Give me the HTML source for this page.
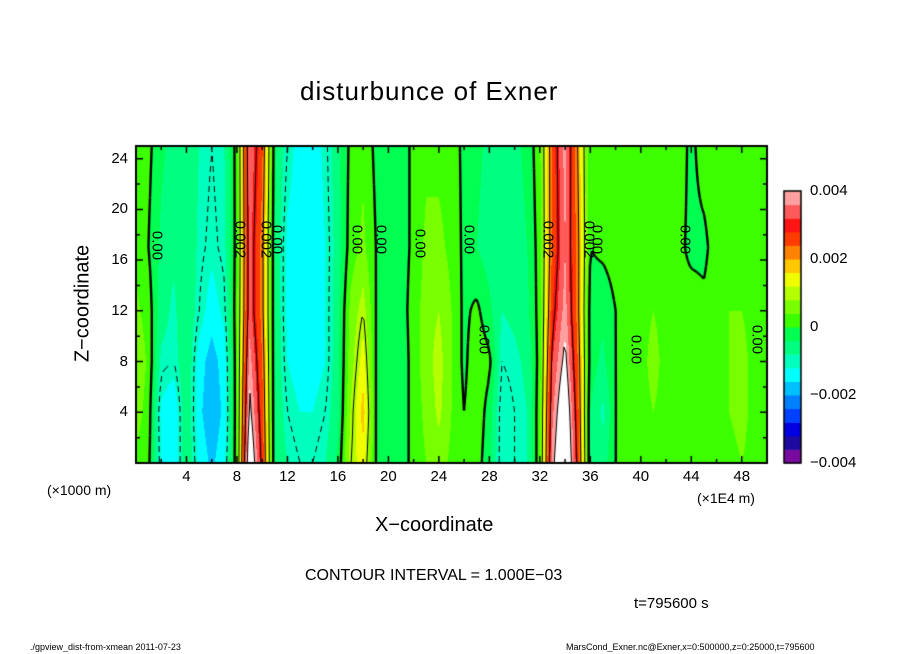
<!DOCTYPE html>
<html><head><meta charset="utf-8">
<style>
body{margin:0;background:#fff;width:904px;height:654px;overflow:hidden;position:relative;font-family:"Liberation Sans","DejaVu Sans",sans-serif;color:#000}
.t{position:absolute;white-space:nowrap}
canvas{position:absolute}
</style></head><body>
<div class="t" style="left:300px;top:76px;font-size:26px;letter-spacing:1px">disturbunce of Exner</div>
<canvas id="plot" width="904" height="654" style="left:0;top:0"></canvas>
<div class="t" style="left:-2px;top:292px;font-size:20px;transform:rotate(-90deg);transform-origin:center;width:170px;text-align:center">Z−coordinate</div>
<div class="t" style="left:375px;top:514px;font-size:20px">X−coordinate</div>
<div class="t" style="left:47px;top:482px;font-size:14px">(×1000 m)</div>
<div class="t" style="left:697px;top:490px;font-size:14px">(×1E4 m)</div>
<div class="t" style="left:305px;top:567px;font-size:16px">CONTOUR INTERVAL = 1.000E−03</div>
<div class="t" style="left:634px;top:595px;font-size:15px">t=795600 s</div>
<div class="t" style="left:30px;top:642px;font-size:9px">./gpview_dist-from-xmean  2011-07-23</div>
<div class="t" style="left:566px;top:642px;font-size:9px">MarsCond_Exner.nc@Exner,x=0:500000,z=0:25000,t=795600</div>
<script>
// data (values in units of 1e-4)
const xs=[0,1,2,3,4,5,6,7,8,9,10,11,12,13,14,15,16,17,18,19,20,21,22,23,24,25,26,27,28,29,30,31,32,33,34,35,36,37,38,39,40,41,42,43,44,45,46,47,48,49,50];
const zLevels=[0,4,8,12,17,25];
const row0=[3,1,-12,-16,-4,-13,-17,-13,3,48,28,-4,-8,-10,-10,-8,-3,10,14,0,-4,-3,2,4,6,3,0,2,-3,-12,-10,-8,3,38,52,28,-4,-6,0,2,3,4,3,2,3,1,2,3,4,3,2];
const row4=[6,2,-13,-16,-4,-15,-19,-15,3,42,26,-4,-10,-12,-12,-10,-5,8,18,0,-3,-3,2,5,9,4,0,3,-2,-12,-10,-8,3,35,48,26,-4,-9,0,2,3,4,3,2,3,1,2,4,5,3,2];
const row8=[8,3,-9,-10,-4,-14,-18,-14,3,38,24,-4,-12,-14,-14,-12,-5,6,14,0,-3,-3,2,6,10,4,-1,3,1,-10,-9,-7,2,32,42,24,-2,-5,0,2,3,5,3,2,3,1,2,4,5,3,2];
const row12=[5,2,-6,-9,-4,-10,-14,-11,3,34,22,-4,-13,-15,-15,-12,-5,5,10,0,-3,-2,2,6,8,4,-1,1,-3,-8,-7,-5,2,28,38,22,-2,-3,0,2,3,4,3,1,2,1,2,4,4,3,2];
const row17=[3,0,-5,-7,-4,-9,-11,-9,2,34,22,-4,-13,-15,-15,-12,-6,2,5,0,-3,-2,1,5,5,3,-1,-4,-6,-7,-6,-4,2,25,36,22,0,1,2,2,3,4,2,1,-1,-1,2,3,3,2,1];
const row25=[2,1,-3,-6,-4,-8,-10,-8,2,36,25,-3,-10,-14,-14,-11,-5,1,3,-1,-2,-2,1,3,3,2,-1,-3,-5,-6,-5,-3,3,25,38,20,0,2,2,2,3,3,2,2,-1,2,2,2,2,1,1];
const rows=[row0,row4,row8,row12,row17,row25];
const colors=["#780aa0","#1e0aa0","#0000e0","#0040ff","#0080ff","#00c0ff","#00ffff","#00ffbe","#00ff80","#00ff50","#3cff00","#78ff00","#b4ff00","#f0ff00","#ffc800","#ff8200","#ff3c00","#ff1414","#ff5a5a","#ffa0a0"];
const cbLabels=["0.004","0.002","0","−0.002","−0.004"];
const cbValues=[0.004,0.002,0,-0.002,-0.004];
const xTicks=[4,8,12,16,20,24,28,32,36,40,44,48];
const yTicks=[4,8,12,16,20,24];
const contourLevels=[-0.002,-0.001,0,0.001,0.002,0.003,0.004];

const L=136,R=767,T=146,B=463;
const X=x=>L+(x-0)/(50-0)*(R-L);
const Y=z=>B-(z-0)/(25-0)*(B-T);
function field(x,z){
  let i=Math.min(xs.length-2,Math.max(0,Math.floor(x)));let fx=(x-xs[i])/(xs[i+1]-xs[i]);
  let j=0;while(j<zLevels.length-2&&z>zLevels[j+1])j++;
  let fz=(z-zLevels[j])/(zLevels[j+1]-zLevels[j]);fz=Math.max(0,Math.min(1,fz));
  const a=rows[j][i]*(1-fx)+rows[j][i+1]*fx, b=rows[j+1][i]*(1-fx)+rows[j+1][i+1]*fx;
  return (a*(1-fz)+b*fz)*1e-4;
}
function hex(c){return [parseInt(c.slice(1,3),16),parseInt(c.slice(3,5),16),parseInt(c.slice(5,7),16)];}
const rgb=colors.map(hex);
const cv=document.getElementById('plot');const ctx=cv.getContext('2d');
const img=ctx.createImageData(R-L,B-T);
for(let py=0;py<B-T;py++)for(let px=0;px<R-L;px++){
  const x=(px+0.5)/(R-L)*50, z=(B-T-py-0.5)/(B-T)*25;
  const v=field(x,z);let k=Math.floor((v+0.004)/0.0004);
  let c=k>=20?[255,255,255]:rgb[Math.max(0,k)];
  const o=(py*(R-L)+px)*4;img.data[o]=c[0];img.data[o+1]=c[1];img.data[o+2]=c[2];img.data[o+3]=255;
}
ctx.putImageData(img,L,T);
const step=2;
const nx=Math.floor((R-L)/step),nz=Math.floor((B-T)/step);
const grid=[];
for(let j=0;j<=nz;j++){grid[j]=[];for(let i=0;i<=nx;i++){grid[j][i]=field(i*step/(R-L)*50,(B-T-j*step)/(B-T)*25);}}
ctx.save();ctx.beginPath();ctx.rect(L,T,R-L,B-T);ctx.clip();
contourLevels.forEach(lv=>{
  ctx.strokeStyle='#000';ctx.lineWidth=lv===0?2.4:1;
  for(let j=0;j<nz;j++)for(let i=0;i<nx;i++){
    if(lv<0&&Math.floor(j*step/5)%2===1)continue;
    const v=[grid[j][i],grid[j][i+1],grid[j+1][i+1],grid[j+1][i]];
    const p=[[i,j],[i+1,j],[i+1,j+1],[i,j+1]];
    const pts=[];
    for(let e=0;e<4;e++){const a=v[e],b=v[(e+1)%4];if((a-lv)*(b-lv)<0){const t=(lv-a)/(b-a);const pa=p[e],pb=p[(e+1)%4];pts.push([L+(pa[0]+t*(pb[0]-pa[0]))*step,T+(pa[1]+t*(pb[1]-pa[1]))*step]);}}
    for(let k=0;k+1<pts.length;k+=2){ctx.beginPath();ctx.moveTo(pts[k][0],pts[k][1]);ctx.lineTo(pts[k+1][0],pts[k+1][1]);ctx.stroke();}
  }
});
ctx.restore();
ctx.strokeStyle='#000';ctx.lineWidth=2;ctx.strokeRect(L,T,R-L,B-T);
ctx.lineWidth=1.5;
for(let x=2;x<50;x+=2){ctx.beginPath();ctx.moveTo(X(x),B);ctx.lineTo(X(x),B-(x%4?4:7));ctx.moveTo(X(x),T);ctx.lineTo(X(x),T+(x%4?4:7));ctx.stroke();}
for(let z=2;z<25;z+=2){ctx.beginPath();ctx.moveTo(L,Y(z));ctx.lineTo(L+(z%4?4:7),Y(z));ctx.moveTo(R,Y(z));ctx.lineTo(R-(z%4?4:7),Y(z));ctx.stroke();}
const cbL=784,cbR=801,cbT=191,cbB=463,bh=(cbB-cbT)/colors.length;
colors.forEach((c,k)=>{ctx.fillStyle=c;ctx.fillRect(cbL,cbB-(k+1)*bh,cbR-cbL,bh+0.5);});
ctx.lineWidth=1.5;ctx.strokeRect(cbL,cbT,cbR-cbL,cbB-cbT);
</script>
<div id="labels"></div>
<script>
const lab=document.getElementById('labels');
xTicks.forEach(v=>{const d=document.createElement('div');d.className='t';


d.style.cssText=`left:${X(v)-15}px;top:468px;width:30px;text-align:center;font-size:15px`;d.textContent=v;lab.appendChild(d);});
yTicks.forEach(v=>{const d=document.createElement('div');d.className='t';


d.style.cssText=`left:96px;top:${Y(v)-9}px;width:32px;text-align:right;font-size:15px`;d.textContent=v;lab.appendChild(d);});
cbLabels.forEach((s,k)=>{const d=document.createElement('div');d.className='t';


const yy=463-(cbValues[k]+0.004)/0.008*272;
d.style.cssText=`left:810px;top:${yy-9}px;font-size:15px`;d.textContent=s;lab.appendChild(d);});
const cl=[[157,246,"0.00"],[240,240,"0.002"],[266,240,"0.002"],[277,240,"0.00"],[357,240,"0.00"],[381,240,"0.00"],[420,244,"0.00"],[469,240,"0.00"],[484,340,"0.00"],[548,240,"0.002"],[589,240,"0.002"],[597,240,"0.00"],[636,350,"0.00"],[685,240,"0.00"],[757,340,"0.00"]];
cl.forEach(c=>{const d=document.createElement('div');d.className='t';


d.style.cssText=`left:${c[0]-20}px;top:${c[1]-9}px;font-size:15px;transform:rotate(90deg);width:40px;text-align:center`;d.textContent=c[2];lab.appendChild(d);});
</script>
</body></html>
